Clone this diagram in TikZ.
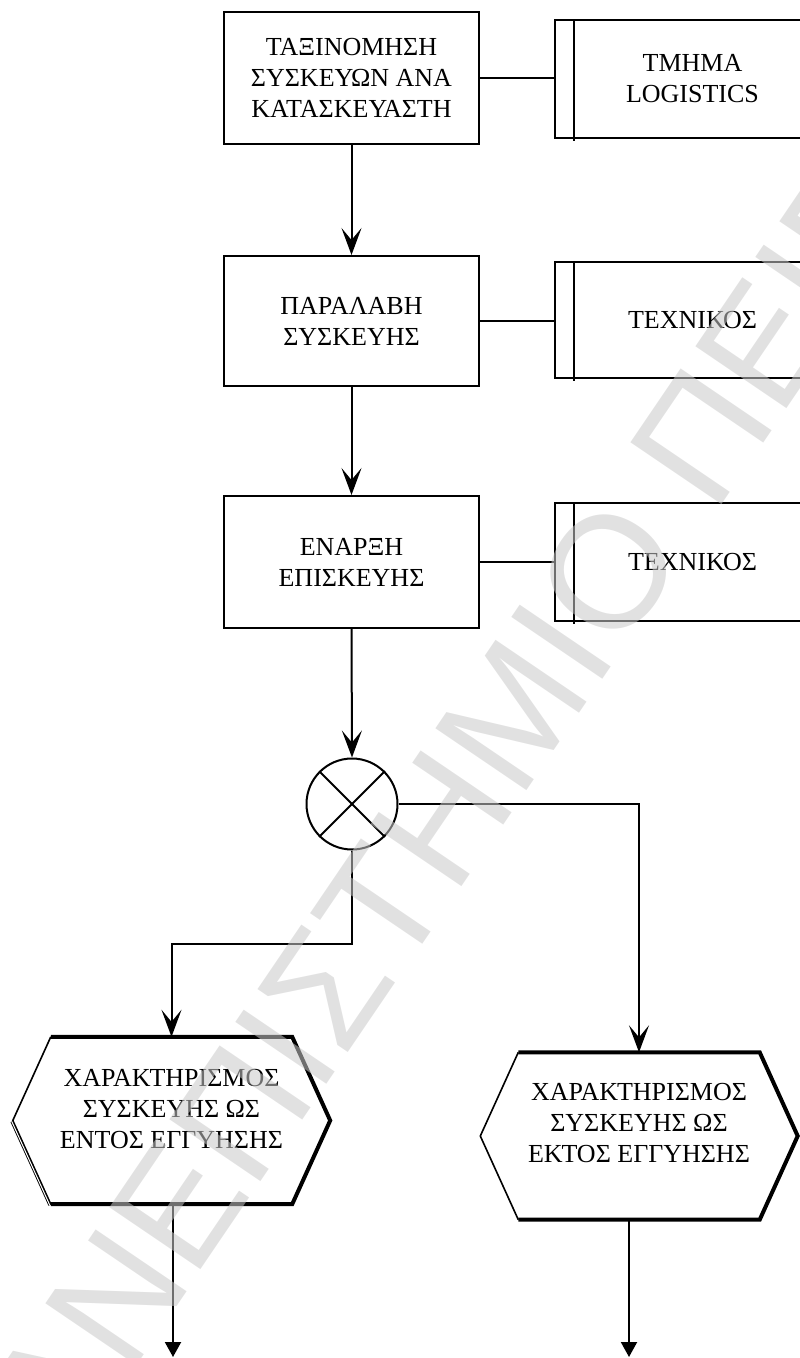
\documentclass[tikz,border=0pt]{standalone}
\usepackage{fontspec}
\setmainfont{Liberation Serif}
\newfontfamily\markfont{Liberation Sans}
\usetikzlibrary{arrows.meta,calc}

\tikzset{
  line/.style={line width=2pt},
  flow/.style={line, -{Stealth[length=27pt,width=20pt,inset=12pt]}},
  exit/.style={line, -{Triangle[length=15pt,width=16pt]}},
  txt/.style={font=\fontsize{26}{31}\selectfont, align=center, inner sep=0pt},
  stepbox/.style={txt, draw, line width=2pt, minimum width=255pt},
  rolebox/.style={txt, draw, line width=2pt, minimum width=275pt},
  hexbox/.style={inner sep=0pt, minimum width=317pt, minimum height=167pt},
  thinedge/.style={line width=1.6pt, line join=miter},
  thickedge/.style={line width=4pt, line join=miter},
  watermark/.style={font=\markfont\fontsize{160}{160}\selectfont,
    text=black!21, text opacity=0.55, inner sep=0pt}
}

\begin{document}
\begin{tikzpicture}[x=1pt,y=-1pt]
\useasboundingbox (0,0) rectangle (800,1358);
\begin{scope}
\clip (0,0) rectangle (800,1358);

% process steps
\node[stepbox, minimum height=132pt] (b1) at (351.5,78)
  {ΤΑΞΙΝΟΜΗΣΗ\\ΣΥΣΚΕΥΩΝ ΑΝΑ\\ΚΑΤΑΣΚΕΥΑΣΤΗ};
\node[stepbox, minimum height=130pt] (b2) at (351.5,321)
  {ΠΑΡΑΛΑΒΗ\\ΣΥΣΚΕΥΗΣ};
\node[stepbox, minimum height=132pt] (b3) at (351.5,562)
  {ΕΝΑΡΞΗ\\ΕΠΙΣΚΕΥΗΣ};

% responsible roles
\node[rolebox, minimum height=118pt] (r1) at (692.5,79) {ΤΜΗΜΑ\\LOGISTICS};
\node[rolebox, minimum height=116pt] (r2) at (692.5,320) {ΤΕΧΝΙΚΟΣ};
\node[rolebox, minimum height=118pt] (r3) at (692.5,562) {ΤΕΧΝΙΚΟΣ};
\foreach \r in {r1,r2,r3}
  \draw[line] ($(\r.north west)+(20,0)$) -- ($(\r.south west)+(20,2)$);

\draw[line] (b1.east) -- (b1.east -| r1.west);
\draw[line] (b2.east) -- (b2.east -| r2.west);
\draw[line] (b3.east) -- (b3.east -| r3.west);

% XOR split
\node[circle, draw, line width=2pt, minimum size=91pt, inner sep=0pt] (split) at (352,804) {};
\draw[line width=1.8pt] (split.north west) -- (split.south east);
\draw[line width=1.8pt] (split.north east) -- (split.south west);

% outcome hexagons
\node[hexbox] (hexA) at (171.5,1120.5) {};
\node[hexbox] (hexB) at (639,1136) {};
\node[txt] (hexAtext) at ($(hexA.center)+(0,-11)$)
  {ΧΑΡΑΚΤΗΡΙΣΜΟΣ\\ΣΥΣΚΕΥΗΣ ΩΣ\\ΕΝΤΟΣ ΕΓΓΥΗΣΗΣ};
\node[txt] (hexBtext) at ($(hexB.center)+(0,-13)$)
  {ΧΑΡΑΚΤΗΡΙΣΜΟΣ\\ΣΥΣΚΕΥΗΣ ΩΣ\\ΕΚΤΟΣ ΕΓΓΥΗΣΗΣ};

\foreach \h in {hexA,hexB}{
  \draw[thinedge] ($(\h.north west)+(38,0)$) -- (\h.west) -- ($(\h.south west)+(38,0)$);
  \draw[thickedge] ($(\h.north west)+(38,0)$) -- ($(\h.north east)+(-38,0)$)
    -- (\h.east) -- ($(\h.south east)+(-38,0)$) -- ($(\h.south west)+(38,0)$);
}
\draw[line width=0.9pt, double, double distance=1pt] ($(hexA.west)+(-1,1)$) -- ($(hexA.south west)+(37,1)$);

% flow
\draw[flow] (b1.south) -- (b2.north);
\draw[flow] (b2.south) -- (b3.north);
\draw[flow] (b3.south) -- (split.north);
\draw[flow] (split.south) -- ++(0,93) -| (hexA.north);
\draw[flow] (split.east) -| (hexB.north);

\coordinate (endA) at (173,1357);
\coordinate (endB) at (629,1357);
\draw[exit] (hexA.south -| endA) -- (endA);
\draw[exit] (hexB.south -| endB) -- (endB);

% watermark
\node[watermark, rotate=55.8, anchor=base west] (wm) at (4,1560)
  {ΠΑΝΕΠΙΣΤΗΜΙΟ ΠΕΙΡΑΙΩΣ};
\end{scope}
\end{tikzpicture}
\end{document}
